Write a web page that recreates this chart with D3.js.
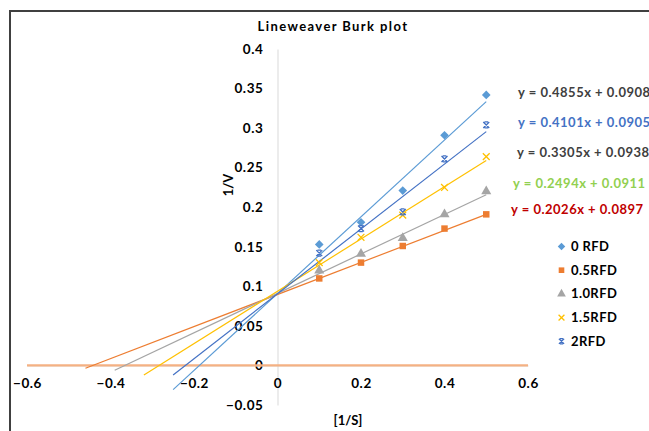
<!DOCTYPE html>
<html>
<head>
<meta charset="utf-8">
<script src="https://cdn.jsdelivr.net/npm/d3@7"></script>
<style>
  body { margin: 0; background: #fff; }
  text { font-family: Lato, "Open Sans", sans-serif; font-weight: bold; }
</style>
</head>
<body>
<div id="chart"></div>
<script>
// substrate concentrations (1/S)
const invS = [0.1, 0.2, 0.3, 0.4, 0.5];
const seriesNames = ["0 RFD", "0.5RFD", "1.0RFD", "1.5RFD", "2RFD"];
// 1/V
const v0 = [0.153, 0.181, 0.221, 0.291, 0.342];
const v05 = [0.110, 0.130, 0.151, 0.173, 0.191];
const v10 = [0.120, 0.141, 0.161, 0.191, 0.220];
const v15 = [0.130, 0.162, 0.190, 0.225, 0.264];
const v2 = [0.142, 0.173, 0.194, 0.261, 0.304];
// trendline fits (as printed) and how far back each is forecast
const slopes = [0.4855, 0.2026, 0.2494, 0.3305, 0.4101];
const intercepts = [0.0908, 0.0897, 0.0911, 0.0938, 0.0905];
const trendFrom = [-0.25, -0.46, -0.39, -0.32, -0.25];
const trendTo = 0.5;
// equation labels, top to bottom
const eqLabels = ["y = 0.4855x + 0.0908", "y = 0.4101x + 0.0905", "y = 0.3305x + 0.0938",
  "y = 0.2494x + 0.0911", "y = 0.2026x + 0.0897"];
// zero line series
const zeroX = [-0.6, 0.6];
const zeroY = [0, 0];
const xTicks = [-0.6, -0.4, -0.2, 0, 0.2, 0.4, 0.6];
const yTicks = [-0.05, 0, 0.05, 0.1, 0.15, 0.2, 0.25, 0.3, 0.35, 0.4];

const colors = ["#5B9BD5", "#ED7D31", "#A5A5A5", "#FFC000", "#4472C4"];
const eqColors = ["#404040", "#4472C4", "#404040", "#92D050", "#C00000"];
const allValues = [v0, v05, v10, v15, v2];

const width = 649, height = 431;
const svg = d3.select("#chart").append("svg")
  .attr("width", width).attr("height", height);

// chart frame (cropped on right/bottom)
svg.append("rect")
  .attr("x", 10).attr("y", 11).attr("width", 700).attr("height", 500)
  .attr("fill", "none").attr("stroke", "#404040").attr("stroke-width", 2);

const x = d3.scaleLinear().domain([-0.6, 0.6]).range([27, 528]);
const y = d3.scaleLinear().domain([-0.05, 0.4]).range([405, 49]);

svg.append("text")
  .attr("x", 333).attr("y", 31)
  .attr("text-anchor", "middle")
  .attr("font-size", 13).attr("letter-spacing", "1.4px")
  .text("Lineweaver Burk plot");

// y axis at x = 0
const yAxis = svg.append("g")
  .attr("transform", `translate(${x(0)},0)`)
  .call(d3.axisLeft(y).tickValues(yTicks).tickSize(0).tickPadding(14)
    .tickFormat(d => d3.format("~g")(+d.toFixed(2))));
yAxis.select(".domain").attr("stroke", "#D9D9D9");
yAxis.selectAll("text").attr("font-size", 13.5).attr("fill", "#000")
  .attr("letter-spacing", "0.6px").style("font-family", "Lato").style("font-weight", "bold");

// x axis at y = 0
const xAxis = svg.append("g")
  .attr("transform", `translate(0,${y(0)})`)
  .call(d3.axisBottom(x).tickValues(xTicks).tickSize(0).tickPadding(13)
    .tickFormat(d => d3.format("~g")(+d.toFixed(1))));
xAxis.select(".domain").attr("stroke", "#D9D9D9");
xAxis.selectAll("text").attr("font-size", 13.5).attr("fill", "#000")
  .attr("letter-spacing", "0.6px").style("font-family", "Lato").style("font-weight", "bold");

// axis titles
svg.append("text")
  .attr("transform", `translate(233,185) rotate(-90)`)
  .attr("text-anchor", "middle").attr("font-size", 13)
  .text("1/V");
svg.append("text")
  .attr("x", 348).attr("y", 425)
  .attr("text-anchor", "middle").attr("font-size", 13)
  .text("[1/S]");

// zero line series
const line = d3.line().x(d => x(d[0])).y(d => y(d[1]));
svg.append("path")
  .datum(d3.zip(zeroX, zeroY))
  .attr("d", line)
  .attr("fill", "none").attr("stroke", "#F4B183").attr("stroke-width", 2.2);

// trendlines
seriesNames.forEach((name, i) => {
  const pts = [trendFrom[i], trendTo].map(t => [t, slopes[i] * t + intercepts[i]]);
  svg.append("path")
    .datum(pts)
    .attr("d", line)
    .attr("fill", "none").attr("stroke", colors[i]).attr("stroke-width", 1.2);
});

// Excel "star" marker: an x with bars top and bottom
const symbolBarX = {
  draw(ctx, size) {
    const r = Math.sqrt(size) / 2;
    ctx.moveTo(-r, -r); ctx.lineTo(r, r);
    ctx.moveTo(r, -r); ctx.lineTo(-r, r);
    ctx.moveTo(-r * 0.6, -r); ctx.lineTo(r * 0.6, -r);
    ctx.moveTo(-r * 0.6, r); ctx.lineTo(r * 0.6, r);
  }
};

// markers
const symbols = [d3.symbolDiamond2, d3.symbolSquare, d3.symbolTriangle, d3.symbolTimes, symbolBarX];
const sizes = [48, 42, 44, 32, 36];
function drawMarker(g, i, cx, cy, scale = 1) {
  const path = d3.symbol().type(symbols[i]).size(sizes[i] * scale)();
  const m = g.append("path")
    .attr("d", path)
    .attr("transform", `translate(${cx},${cy})`);
  if (i >= 3) {
    m.attr("fill", "none").attr("stroke", colors[i]).attr("stroke-width", 1.3);
  } else {
    m.attr("fill", colors[i]);
  }
}

allValues.forEach((vals, i) => {
  const g = svg.append("g");
  vals.forEach((v, j) => drawMarker(g, i, x(invS[j]), y(v)));
});

// equation labels
const eqY = [92, 122, 152, 183, 209];
const eqX = [518, 518, 517, 513, 511];
eqLabels.forEach((t, i) => {
  svg.append("text")
    .attr("x", eqX[i]).attr("y", eqY[i]).attr("dy", "0.35em")
    .attr("font-size", 13).attr("letter-spacing", "0.5px")
    .attr("fill", eqColors[i])
    .text(t);
});

// legend
const legend = svg.append("g");
seriesNames.forEach((name, i) => {
  const ly = 246.5 + i * 23.7;
  drawMarker(legend, i, 561.5, ly, 0.75);
  legend.append("text")
    .attr("x", 571).attr("y", ly).attr("dy", "0.35em")
    .attr("font-size", 13).attr("letter-spacing", "0.4px").attr("fill", "#000")
    .text(name);
});
</script>
</body>
</html>
